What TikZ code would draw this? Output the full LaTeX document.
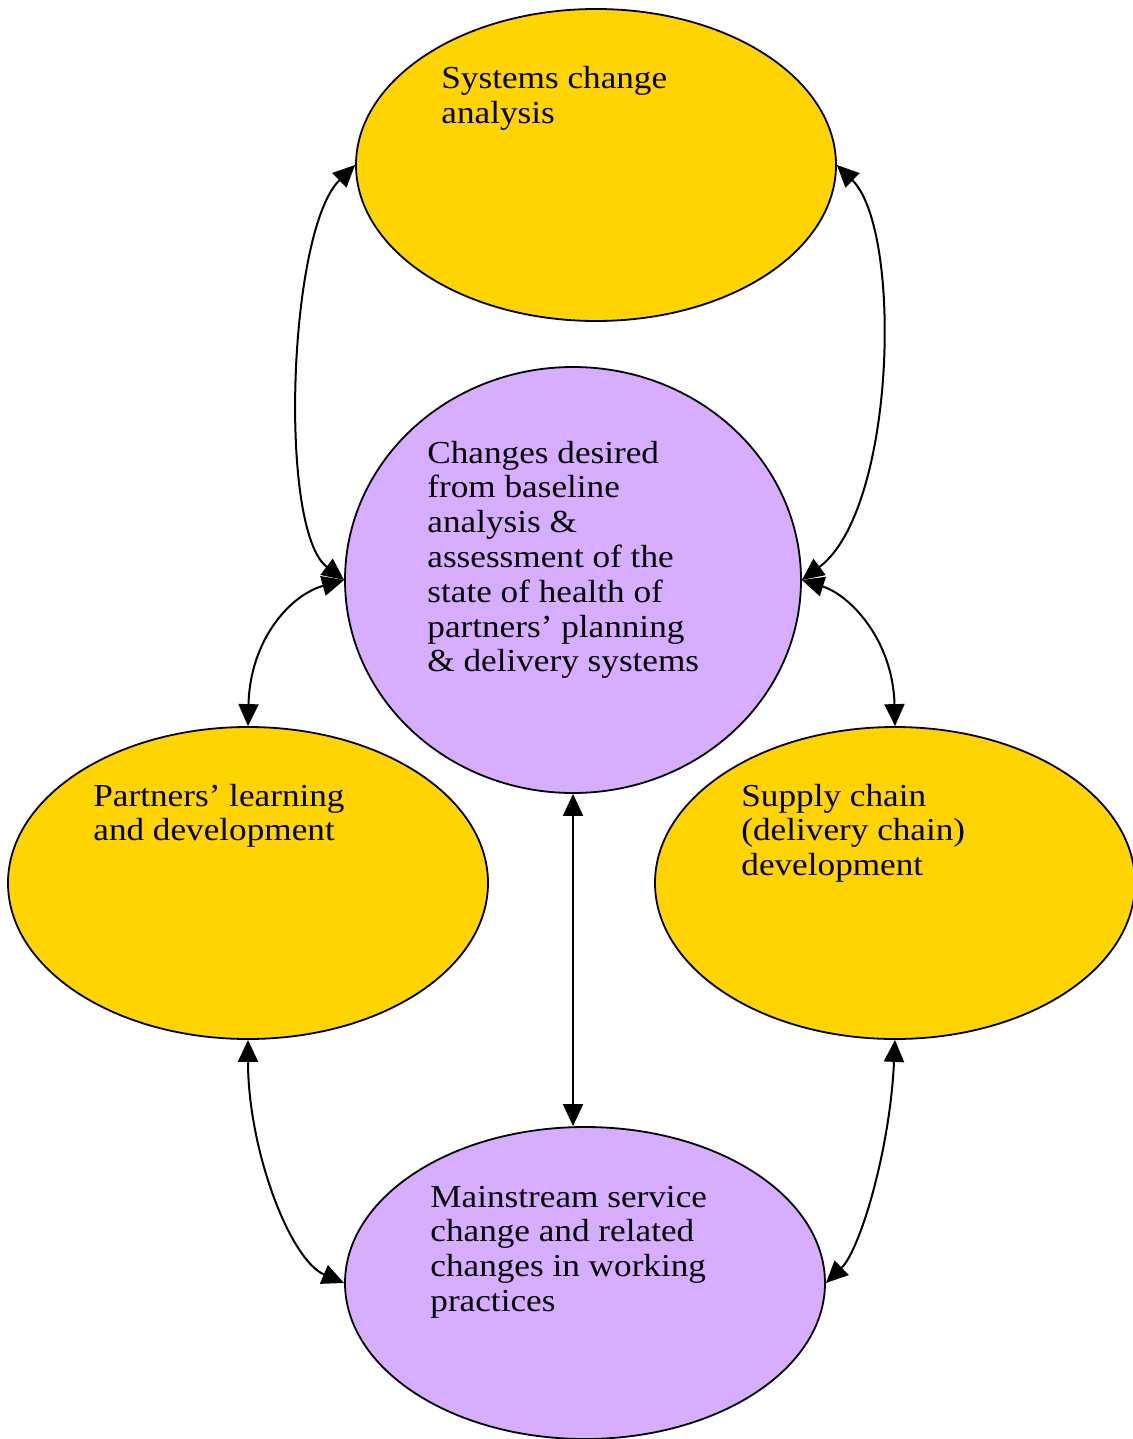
\documentclass[tikz,border=0pt]{standalone}
\usepackage{fontspec}
\setmainfont[FakeStretch=1.1]{Liberation Serif}
\usetikzlibrary{shapes.geometric,arrows.meta}
\definecolor{goldfill}{HTML}{FFD400}
\definecolor{lilacfill}{HTML}{D6ADFF}
\tikzset{
  blob/.style={ellipse, draw=black, line width=0.9pt, inner sep=0pt},
  goldblob/.style={blob, fill=goldfill, minimum width=240pt, minimum height=156pt},
  % captions are placed by the baseline of their last line
  label/.style={anchor=base west, align=left, inner sep=0pt,
    font=\fontsize{16pt}{17.4pt}\selectfont},
  link/.style={line width=1pt, {Triangle[length=11pt,width=10pt]}-{Triangle[length=11pt,width=10pt]}}
}
\begin{document}
\begin{tikzpicture}[x=0.5pt,y=-0.5pt]
  \useasboundingbox (0,0) rectangle (1132,1439);

  % the five stages
  \node[goldblob] (top) at (596,165) {};
  \node[blob, fill=lilacfill, minimum width=228pt, minimum height=213pt] (mid) at (573,580) {};
  \node[goldblob] (left) at (248,883) {};
  \node[goldblob] (right) at (895,883) {};
  \node[goldblob, fill=lilacfill] (bottom) at (585,1283) {};

  % their captions
  \node[label] (toptext) at (441,123.8) {Systems change\\analysis};
  \node[label] (midtext) at (427,671.8) {Changes desired\\from baseline\\analysis \&\\assessment of the\\state of health of\\partners’ planning\\\& delivery systems};
  \node[label] (lefttext) at (93,840.8) {Partners’ learning\\and development};
  \node[label] (righttext) at (741,875.6) {Supply chain\\(delivery chain)\\development};
  \node[label] (bottomtext) at (430,1311.4) {Mainstream service\\change and related\\changes in working\\practices};

  % two-way links
  \draw[link] (top.west) .. controls (288,230) and (278,530) .. (mid.west);
  \draw[link] (top.east) .. controls (903,230) and (896,510) .. (mid.east);
  \draw[link] (mid.west) .. controls (290,595) and (250,640) .. (left.north);
  \draw[link] (mid.east) .. controls (850,595) and (893,640) .. (right.north);
  \draw[link] (mid.south) -- (mid.south |- bottom.north);
  \draw[link] (left.south) .. controls (248,1150) and (290,1260) .. (bottom.west);
  \draw[link] (right.south) .. controls (890,1150) and (860,1250) .. (bottom.east);
\end{tikzpicture}
\end{document}
